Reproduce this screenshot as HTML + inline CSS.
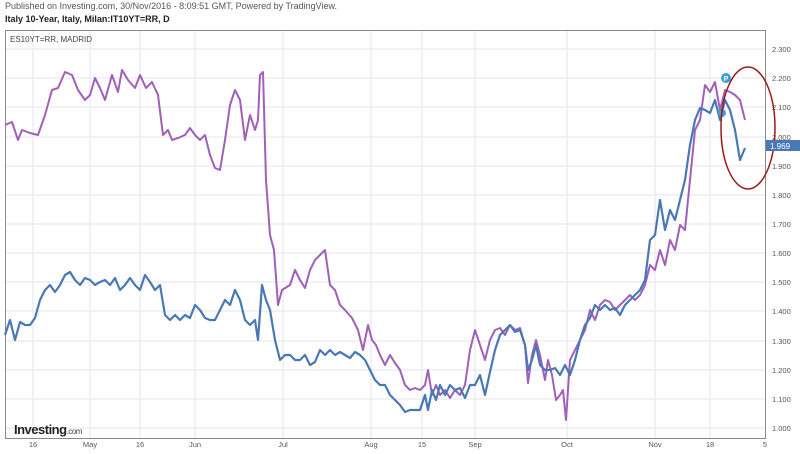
<!DOCTYPE html><html><head><style>body{margin:0;background:#fff;font-family:"Liberation Sans",Arial,sans-serif}</style></head><body>
<svg width="800" height="449" viewBox="0 0 800 449" xmlns="http://www.w3.org/2000/svg" font-family="Liberation Sans, Arial, sans-serif">
<rect width="800" height="449" fill="#fff"/>
<text x="5" y="9" font-size="9" fill="#555">Published on Investing.com, 30/Nov/2016 - 8:09:51 GMT, Powered by TradingView.</text>
<text x="5" y="22" font-size="9" font-weight="bold" fill="#222">Italy 10-Year, Italy, Milan:IT10YT=RR, D</text>
<rect x="5.5" y="30.5" width="760" height="408" fill="none" stroke="#888"/>
<g stroke="#e6e6ec" stroke-width="1">
<line x1="33" y1="31" x2="33" y2="438"/><line x1="90" y1="31" x2="90" y2="438"/><line x1="140" y1="31" x2="140" y2="438"/><line x1="195" y1="31" x2="195" y2="438"/><line x1="283" y1="31" x2="283" y2="438"/><line x1="371" y1="31" x2="371" y2="438"/><line x1="422" y1="31" x2="422" y2="438"/><line x1="475" y1="31" x2="475" y2="438"/><line x1="567" y1="31" x2="567" y2="438"/><line x1="655" y1="31" x2="655" y2="438"/><line x1="710" y1="31" x2="710" y2="438"/>
<line x1="6" y1="49" x2="765" y2="49"/><line x1="6" y1="78" x2="765" y2="78"/><line x1="6" y1="107" x2="765" y2="107"/><line x1="6" y1="137" x2="765" y2="137"/><line x1="6" y1="166" x2="765" y2="166"/><line x1="6" y1="195" x2="765" y2="195"/><line x1="6" y1="224" x2="765" y2="224"/><line x1="6" y1="253" x2="765" y2="253"/><line x1="6" y1="282" x2="765" y2="282"/><line x1="6" y1="311" x2="765" y2="311"/><line x1="6" y1="341" x2="765" y2="341"/><line x1="6" y1="370" x2="765" y2="370"/><line x1="6" y1="399" x2="765" y2="399"/><line x1="6" y1="428" x2="765" y2="428"/>
</g>
<text x="10" y="42" font-size="8" fill="#444">ES10YT=RR, MADRID</text>
<g font-size="7.5" fill="#555">
<text x="772" y="52">2.300</text><text x="772" y="81">2.200</text><text x="772" y="110">2.100</text><text x="772" y="140">2.000</text><text x="772" y="169">1.900</text><text x="772" y="198">1.800</text><text x="772" y="227">1.700</text><text x="772" y="256">1.600</text><text x="772" y="285">1.500</text><text x="772" y="314">1.400</text><text x="772" y="344">1.300</text><text x="772" y="373">1.200</text><text x="772" y="402">1.100</text><text x="772" y="431">1.000</text>
</g>
<g font-size="7.5" fill="#555" text-anchor="middle">
<text x="33" y="447">16</text><text x="90" y="447">May</text><text x="140" y="447">16</text><text x="195" y="447">Jun</text><text x="283" y="447">Jul</text><text x="371" y="447">Aug</text><text x="422" y="447">15</text><text x="475" y="447">Sep</text><text x="567" y="447">Oct</text><text x="655" y="447">Nov</text><text x="710" y="447">18</text><text x="765" y="447">5</text>
</g>
<text x="14" y="434" font-size="13" font-weight="bold" fill="#222" letter-spacing="-0.5">Investing<tspan font-size="8" font-weight="normal" fill="#444">.com</tspan></text>
<polyline fill="none" stroke="#a160b8" stroke-width="2" stroke-linejoin="round" points="5,125 12,122 18,140 22,130 30,133 38,135 45,115 52,90 58,88 65,72 72,75 78,90 85,100 90,95 95,78 100,88 105,100 112,75 118,92 122,70 128,80 135,88 140,75 146,88 152,82 158,95 163,135 168,130 172,140 178,138 185,135 190,128 195,135 200,140 205,135 210,155 215,168 220,170 225,140 230,105 235,90 240,100 245,140 250,115 255,130 258,120 260,75 263,72 266,180 270,235 274,250 278,305 282,290 290,285 295,270 300,280 305,288 310,270 315,260 320,255 325,250 330,285 335,290 340,305 345,310 352,318 358,330 363,350 368,325 372,340 376,345 380,355 385,365 390,355 395,363 400,370 405,385 410,390 415,388 420,390 425,385 428,370 432,395 436,385 440,395 445,390 450,398 455,390 460,395 465,385 470,350 475,330 480,345 485,360 490,340 495,330 500,328 505,335 510,325 515,330 520,328 525,345 528,383 532,355 536,340 540,355 545,380 548,360 552,375 556,400 560,395 563,390 566,420 570,360 575,350 580,340 585,330 590,310 595,320 600,305 605,300 610,302 615,310 620,305 625,300 630,295 635,300 640,295 645,285 650,265 655,270 660,250 665,265 670,240 675,250 680,225 685,230 690,180 695,130 700,120 705,85 710,92 715,82 720,110 725,90 730,92 735,95 740,100 745,120"/>
<polyline fill="none" stroke="#4a78b5" stroke-width="2.2" stroke-linejoin="round" points="5,335 10,320 15,340 20,322 25,325 30,325 35,318 40,300 45,290 50,285 55,292 60,285 65,275 70,272 75,280 80,285 85,278 90,280 95,285 100,282 105,280 110,285 115,278 120,290 125,285 130,278 135,285 140,290 145,275 150,282 155,290 160,285 165,315 170,320 175,315 180,320 185,315 190,318 195,305 200,310 205,318 210,320 215,320 220,310 225,300 230,305 235,290 240,300 245,320 250,325 255,320 258,340 262,285 266,300 270,310 275,340 280,360 285,355 290,355 295,360 300,360 305,355 310,365 315,362 320,350 325,355 330,350 335,355 340,352 345,355 350,358 355,352 360,355 365,360 370,370 375,380 380,385 385,385 390,395 395,400 400,405 405,412 410,410 415,410 420,410 425,395 428,410 432,390 436,400 440,385 445,395 450,385 455,390 460,388 465,398 470,385 475,385 480,375 485,395 490,372 495,350 500,335 505,330 510,325 515,332 520,330 525,345 528,370 532,360 536,345 540,365 545,370 550,370 555,368 560,375 565,365 570,375 575,360 580,340 585,325 590,318 595,305 600,310 605,305 610,310 615,308 620,315 625,305 630,300 635,295 640,290 645,280 650,240 655,235 660,200 665,230 670,210 675,220 680,200 685,180 690,145 695,120 700,108 705,110 710,113 715,100 720,120 725,100 730,110 735,130 740,160 745,148"/>
<circle cx="726" cy="78" r="5" fill="#3aa0d8"/><text x="726" y="81" font-size="7" fill="#fff" text-anchor="middle" font-weight="bold">P</text>
<circle cx="722" cy="113" r="4" fill="#3aa0d8"/>
<ellipse cx="748" cy="128" rx="27" ry="61" fill="none" stroke="#a01818" stroke-width="1.5"/>
<rect x="766" y="140" width="34" height="11" fill="#4a78b5"/><text x="770" y="149" font-size="8" fill="#fff">1.969</text>
</svg></body></html>
